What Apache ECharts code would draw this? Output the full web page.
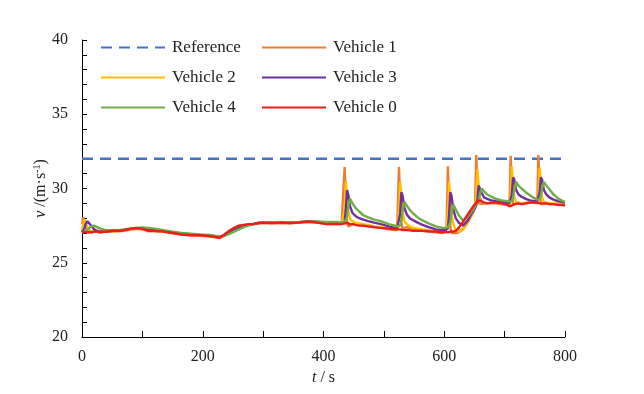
<!DOCTYPE html>
<html>
<head>
<meta charset="utf-8">
<script src="https://cdn.jsdelivr.net/npm/echarts@6/dist/echarts.min.js"></script>
<style>
html,body{margin:0;padding:0;background:#fff;}
#chart{width:644px;height:394px;}
</style>
</head>
<body>
<div id="chart"></div>
<script>
// time axis (s)
var times = [0,2,4,6,9,12,16,20,25,30,40,50,60,70,80,90,100,110,120,135,150,165,180,195,210,220,228,236,244,252,260,268,276,284,292,300,315,330,345,360,375,390,405,420,430,
432,435,437,439,441,444,448,453,459,466,474,484,495,508,518,
522,525,527,529,531,534,538,543,549,556,564,574,586,597,
602,604,606,608,610,612,615,619,624,631,639,648,
651,653,655,657,659,662,666,671,678,686,695,704,
708,710,712,714,716,719,723,728,735,742,749,
754,756,758,760,762,765,769,774,781,788,794,800];

var refTimes = [0, 800];
var refValues = [32, 32];

var vehicle1 = [27.6,28.05,28.0,27.5,27.2,27.1,27.05,27.1,27.1,27.05, 27.1,27.1,27.12,27.15,27.22,27.28,27.25,27.12,27.12, 27.08,27.0,26.9,26.85,26.82,26.78, 26.72,26.66,26.86,27.1,27.32,27.48,27.5,27.55,27.58,27.64,27.68, 27.66,27.68,27.65,27.7,27.74,27.7,27.6,27.62,27.6,
27.6,31.45,29.3,27.85,27.45,27.55,27.6,27.6,27.55,27.5,27.45,27.4,27.35,27.25,27.2,
27.2,31.45,29.2,27.7,27.3,27.35,27.4,27.3,27.25,27.2,27.15,27.1,27.05,27.0,
27.05,27.6,31.5,29.1,27.5,27.0,26.95,27.0,27.05,27.25,27.7,28.4,
28.7,32.25,30.0,29.0,28.9,28.95,29.0,29.0,29.0,29.0,28.95,28.9,
28.85,32.2,29.9,28.9,28.85,28.95,29.0,28.95,29.0,29.05,29.05,
29.0,32.25,30.0,28.95,28.9,28.95,29.0,28.95,28.95,28.95,28.9,28.9];

var vehicle2 = [27.1,27.6,27.9,27.8,27.4,27.2,27.1,27.1,27.1,27.05, 27.1,27.12,27.15,27.18,27.25,27.3,27.28,27.15,27.15, 27.1,27.02,26.92,26.88,26.85,26.8, 26.75,26.7,26.88,27.1,27.3,27.45,27.52,27.58,27.6,27.66,27.7, 27.68,27.7,27.68,27.72,27.76,27.72,27.65,27.65,27.62,
27.62,28.6,30.5,29.5,28.5,27.95,27.8,27.7,27.65,27.6,27.55,27.45,27.4,27.3,27.25,
27.25,28.4,30.45,29.4,28.4,27.8,27.6,27.45,27.35,27.3,27.25,27.2,27.1,27.05,
27.1,27.1,28.3,30.45,29.3,28.2,27.6,27.2,27.1,27.3,27.8,28.45,
28.75,29.5,31.3,30.2,29.4,29.1,29.0,29.0,29.05,29.05,29.0,28.95,
28.95,29.6,31.5,30.3,29.4,29.1,29.05,29.0,29.05,29.1,29.1,
29.1,29.6,31.4,30.3,29.4,29.1,29.05,29.0,29.0,29.0,28.95,28.95];

var vehicle3 = [27.05,27.1,27.3,27.6,27.8,27.75,27.45,27.25,27.15,27.1, 27.1,27.15,27.15,27.2,27.28,27.33,27.32,27.2,27.2, 27.15,27.05,26.95,26.9,26.88,26.83, 26.78,26.72,26.85,27.05,27.25,27.4,27.5,27.57,27.62,27.68,27.7, 27.7,27.72,27.7,27.73,27.78,27.74,27.7,27.7,27.68,
27.68,27.75,28.6,29.9,29.6,28.8,28.35,28.15,28.0,27.9,27.8,27.7,27.6,27.45,27.35,
27.35,27.4,28.3,29.75,29.5,28.7,28.25,28.0,27.85,27.7,27.55,27.4,27.25,27.2,
27.2,27.2,27.3,28.2,29.75,29.5,28.6,28.0,27.7,27.5,27.85,28.5,
28.7,28.85,29.3,30.2,30.2,29.7,29.4,29.3,29.2,29.15,29.1,29.05,
29.0,29.05,29.6,30.75,30.6,29.9,29.6,29.45,29.3,29.2,29.15,
29.15,29.2,29.7,30.75,30.6,29.9,29.6,29.4,29.25,29.15,29.1,29.05];

var vehicle4 = [27.05,27.05,27.1,27.1,27.2,27.35,27.45,27.5,27.4,27.3, 27.2,27.2,27.2,27.25,27.3,27.35,27.38,27.35,27.3, 27.2,27.1,27.0,26.95,26.9,26.88, 26.82,26.78,26.8,26.95,27.1,27.25,27.4,27.5,27.6,27.68,27.72, 27.72,27.75,27.72,27.75,27.8,27.78,27.75,27.75,27.72,
27.72,27.75,27.8,28.1,28.8,29.3,29.0,28.7,28.45,28.2,28.05,27.9,27.8,27.6,27.5,
27.45,27.45,27.5,27.8,28.5,29.1,28.85,28.55,28.3,28.05,27.85,27.65,27.45,27.35,
27.35,27.35,27.38,27.45,27.7,28.3,28.9,28.6,28.2,27.85,28.1,28.6,
28.8,28.95,29.05,29.2,29.6,30.0,29.8,29.6,29.45,29.3,29.2,29.15,
29.12,29.12,29.15,29.4,29.9,30.45,30.2,30.0,29.75,29.55,29.35,
29.25,29.25,29.3,29.5,30.0,30.45,30.2,29.95,29.6,29.35,29.2,29.1];

var vehicle0 = [27.05,27.1,27.05,27.1,27.05,27.1,27.05,27.1,27.1,27.05, 27.1,27.15,27.15,27.2,27.3,27.35,27.3,27.15,27.15, 27.1,27.0,26.9,26.85,26.85,26.8, 26.75,26.68,26.9,27.15,27.35,27.5,27.55,27.6,27.62,27.68,27.7, 27.68,27.7,27.68,27.72,27.78,27.7,27.6,27.62,27.6,
27.6,27.65,27.7,27.68,27.65,27.6,27.6,27.55,27.5,27.5,27.45,27.4,27.35,27.3,27.25,
27.25,27.3,27.25,27.2,27.2,27.2,27.2,27.18,27.15,27.15,27.15,27.12,27.1,27.05,
27.1,27.05,27.05,27.05,27.1,27.1,27.1,27.15,27.35,27.75,28.25,28.8,
28.95,29.05,29.12,29.18,29.2,29.15,29.05,29.0,29.05,29.05,29.0,28.9,
28.8,28.78,28.85,28.9,28.95,29.0,29.0,28.95,29.0,29.05,29.05,
29.05,29.0,29.0,29.0,29.0,29.05,29.0,28.95,28.95,28.9,28.9,28.85];

var seriesNames = ['Reference','Vehicle 1','Vehicle 2','Vehicle 3','Vehicle 4','Vehicle 0'];
var xTicks = [0, 200, 400, 600, 800];
var yTicks = [20, 25, 30, 35, 40];

function pairs(ts, vs){ return ts.map(function(t,i){ return [t, vs[i]]; }); }

var FONT = 'Liberation Serif, Times New Roman, serif';
var chart = echarts.init(document.getElementById('chart'), null, {renderer:'canvas'});

function lineSeries(name, color, data, type){
  return {
    name: name, type: 'line', data: data, symbol: 'none', showSymbol: false,
    lineStyle: {color: color, width: 2.4, type: type || 'solid'},
    itemStyle: {color: color},
    emphasis: {disabled: true}, animation: false
  };
}

var legendCommon = {
  orient: 'vertical', top: 39, padding: 0, itemWidth: 64, itemHeight: 14, itemGap: 13,
  itemStyle: {opacity: 0},
  textStyle: {fontFamily: FONT, fontSize: 17, color: '#222', lineHeight: 17, padding: [0,0,0,2]},
  selectedMode: false
};

chart.setOption({
  animation: false,
  backgroundColor: '#fff',
  grid: {left: 82, right: 79, top: 40, bottom: 57, containLabel: false},
  legend: [
    Object.assign({}, legendCommon, {left: 100, data: ['Reference','Vehicle 2','Vehicle 4']}),
    Object.assign({}, legendCommon, {left: 261, data: ['Vehicle 1','Vehicle 3','Vehicle 0']})
  ],
  xAxis: {
    type: 'value', min: xTicks[0], max: xTicks[xTicks.length-1], interval: 200,
    name: '{i|t} / s', nameLocation: 'middle', nameGap: 32,
    nameTextStyle: {fontFamily: FONT, fontSize: 16, color: '#222',
      rich: {i: {fontFamily: FONT, fontSize: 16, fontStyle: 'italic', color: '#222'}}},
    axisLine: {show: true, lineStyle: {color: '#000', width: 1}},
    axisTick: {show: true, inside: true, length: 6, lineStyle: {color: '#000'}},
    minorTick: {show: true, splitNumber: 2, length: 6, lineStyle: {color: '#000'}},
    axisLabel: {fontFamily: FONT, fontSize: 16, color: '#222', margin: 12},
    splitLine: {show: false}
  },
  yAxis: {
    type: 'value', min: yTicks[0], max: yTicks[yTicks.length-1], interval: 5,
    name: '{i|v} /(m·s{sup|-1})', nameLocation: 'middle', nameGap: 32, nameRotate: 90,
    nameMoveOverlap: false,
    nameTextStyle: {fontFamily: FONT, fontSize: 16, color: '#222',
      rich: {
        i: {fontFamily: FONT, fontSize: 16, fontStyle: 'italic', color: '#222', lineHeight: 18},
        sup: {fontFamily: FONT, fontSize: 10, color: '#222', verticalAlign: 'top', lineHeight: 18, padding: [0,0,6,0]}
      }},
    axisLine: {show: true, lineStyle: {color: '#000', width: 1}},
    axisTick: {show: true, inside: true, length: 5, lineStyle: {color: '#000'}},
    minorTick: {show: true, splitNumber: 5, length: 5, lineStyle: {color: '#000'}},
    axisLabel: {fontFamily: FONT, fontSize: 16, color: '#222', margin: 14},
    splitLine: {show: false}
  },
  series: [
    lineSeries(seriesNames[0], '#4472C4', pairs(refTimes, refValues), [11, 7]),
    lineSeries(seriesNames[1], '#ED7D31', pairs(times, vehicle1)),
    lineSeries(seriesNames[2], '#FFC000', pairs(times, vehicle2)),
    lineSeries(seriesNames[3], '#7030A0', pairs(times, vehicle3)),
    lineSeries(seriesNames[4], '#70AD47', pairs(times, vehicle4)),
    lineSeries(seriesNames[5], '#EE1C1C', pairs(times, vehicle0))
  ]
});
</script>
</body>
</html>
